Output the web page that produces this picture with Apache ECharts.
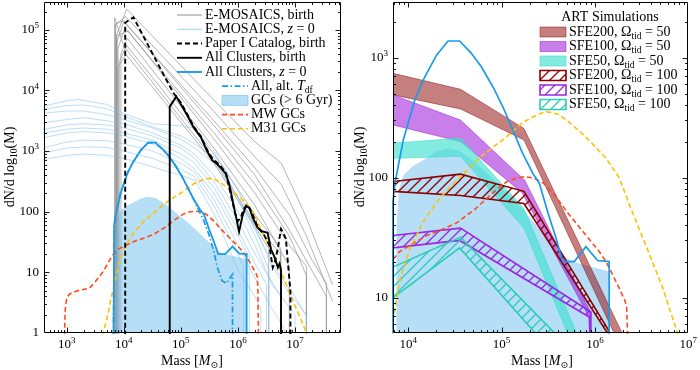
<!DOCTYPE html>
<html><head><meta charset="utf-8">
<script src="https://cdn.jsdelivr.net/npm/echarts@6/dist/echarts.min.js"></script>
<style>html,body{margin:0;padding:0;background:#fff}#c{width:700px;height:370px}</style>
</head><body><div id="c"></div>
<script>
// ---------------- DATA : [mass (Msun), dN/dlog10(M)] ----------------
const emosaicsBirth = [
  [[7413,0.9],[7413,7.94e4],[1.122e4,2.188e5],[3.802e5,6918],[1.995e6,1413],[5.754e6,631],[1.479e7,93],[4.571e7,6.2]],
  [[7079,0.9],[7079,1.202e5],[1.072e4,1.66e5],[3.802e5,4467],[1.995e6,794],[5.754e6,282],[1.585e7,39.8],[4.571e7,3.3]],
  [[7586,0.9],[7586,6.3e4],[1e4,1.35e5],[3.802e5,3162],[1.995e6,525],[7.943e6,89],[1.995e7,15.8],[3.548e7,6.6],[3.548e7,0.9]],
  [[7244,0.9],[7244,1.26e5],[1e4,1.41e5],[3.802e5,2630],[1.995e6,398],[7.943e6,50],[3.548e7,4],[3.548e7,0.9]],
  [[7943,0.9],[7943,5e4],[1.047e4,1.07e5],[3.802e5,1995],[1.995e6,282],[7.943e6,40],[1.585e7,8.9],[1.585e7,0.9]],
  [[7586,0.9],[7586,8e4],[1.202e4,9.5e4],[3.802e5,1585],[1.995e6,200],[7.943e6,28],[1.585e7,12.6],[1.585e7,0.9]],
  [[8913,0.9],[8913,4e4],[1.148e4,7.24e4],[3.802e5,1122],[1.995e6,126],[7.943e6,12.6],[7.943e6,0.9]],
  [[8318,0.9],[8318,3e4],[1.122e4,5.5e4],[3.802e5,891],[1.995e6,89],[5.623e6,25],[5.623e6,0.9]],
  [[6918,0.9],[6918,1.585e5],[1e4,5.37e4],[3.802e5,708],[1.995e6,63],[5.623e6,20],[5.623e6,0.9]],
  [[7943,0.9],[7943,2.5e4],[1.096e4,3.89e4],[3.802e5,631],[1.585e6,79],[3.467e6,25],[3.467e6,0.9]]
];
const emosaicsZ0 = [
  [[355,5370],[1000,6761],[1585,7079],[5012,5888],[1e4,4169],[3.162e4,2818],[1e5,2600],[1.738e5,2400],[3.802e5,1000],[1e6,224],[1.995e6,56],[3.981e6,12.6],[7.943e6,4.5],[1.585e7,2],[1.585e7,0.9]],
  [[355,4169],[1000,4571],[1995,4571],[5012,3981],[1e4,3311],[3.162e4,2399],[1e5,1585],[1.738e5,1122],[3.802e5,631],[1e6,158],[1.995e6,40],[3.467e6,11.2],[3.467e6,0.9]],
  [[355,2884],[1000,3311],[1995,3548],[5012,3162],[1e4,2818],[3.162e4,1995],[1e5,1259],[1.738e5,891],[3.802e5,398],[1e6,100],[1.995e6,28],[3.981e6,6.3],[1e7,2],[1e7,0.9]],
  [[355,2239],[1000,2692],[1995,2818],[5012,2692],[1e4,2399],[3.162e4,1778],[1e5,1122],[1.738e5,759],[3.802e5,316],[1e6,71],[1.995e6,20],[5.623e6,4],[5.623e6,0.9]],
  [[355,1950],[1000,2291],[1995,2399],[5012,2291],[1e4,1995],[3.162e4,1514],[1e5,891],[1.738e5,631],[3.802e5,251],[1e6,50],[1.995e6,14],[3.162e6,6.3],[3.162e6,0.9]],
  [[355,1622],[1000,1995],[1995,2089],[5012,1995],[1e4,1778],[3.162e4,1318],[1e5,759],[1.738e5,501],[3.802e5,200],[1e6,40],[1.585e6,17.8],[1.585e6,0.9]],
  [[355,1096],[1000,1413],[1995,1514],[5012,1479],[1e4,1318],[3.162e4,1000],[1e5,631],[1.738e5,447],[3.802e5,158],[1e6,28],[1.995e6,8],[3.981e6,2.5],[6.31e6,1.26],[7e6,0.9]],
  [[355,912],[1000,1122],[1995,1175],[5012,1148],[1e4,1000],[3.162e4,759],[1e5,501],[1.738e5,380],[3.802e5,126],[1e6,20],[1.259e6,12.6],[1.259e6,0.9]],
  [[355,708],[1000,851],[1995,891],[5012,851],[1e4,759],[3.162e4,550],[1e5,398],[1.738e5,331],[3.802e5,93],[1e6,11],[1.995e6,4],[2.512e6,2.5],[2.512e6,0.9]],
  [[355,4786],[1000,5623],[1995,5754],[5012,5012],[1e4,3802],[3.162e4,2512],[1e5,1778],[1.738e5,1318],[3.802e5,794],[1e6,178],[1.995e6,50],[5.012e6,10],[1e7,4],[1.585e7,1.9],[1.585e7,0.9]]
];
const paperIBirth = [[1.059e4,0.9],[1.059e4,1.3e5],[1.148e4,1.38e5],[1.479e4,1.6e5],[3.162e4,4.1e4],[5.012e4,1.8e4],[7.516e4,8900],[1e5,6300],[1.288e5,4100],[1.698e5,2500],[2.239e5,1750],[2.884e5,1050],[3.548e5,760],[4.169e5,660],[5.012e5,560],[6.166e5,430],[7.516e5,190],[8.913e5,95],[1e6,70],[1.122e6,80],[1.259e6,112],[1.479e6,130],[1.778e6,95],[2.239e6,55],[2.884e6,41],[3.548e6,28],[4.074e6,12],[4.467e6,15],[5.012e6,25],[5.689e6,52],[6.918e6,36],[7.586e6,13],[8.318e6,5],[8.318e6,0.9]];
const allBirth = [[6.383e4,0.9],[6.383e4,5400],[8.318e4,7900],[1e5,5900],[1.288e5,3900],[1.698e5,2400],[2.239e5,1700],[2.884e5,1000],[3.548e5,700],[4.169e5,630],[5.012e5,530],[6.166e5,420],[7.079e5,280],[8.511e5,120],[1.047e6,47],[1.202e6,85],[1.38e6,125],[1.585e6,115],[1.82e6,80],[2.188e6,55],[2.63e6,48],[3.311e6,45],[3.802e6,24],[4.365e6,18],[5.012e6,12],[5.37e6,14],[5.689e6,11],[5.689e6,0.9]];
const allZ0 = [[6.607e3,0.9],[6.808e3,60],[7.21e3,90],[8.85e3,206],[1.178e4,446],[1.445e4,650],[2.01e4,1050],[2.673e4,1378],[3.565e4,1378],[4.75e4,1087],[6.07e4,841],[8.07e4,573],[1.033e5,390],[1.318e5,250],[1.687e5,159],[2.158e5,109],[2.54e5,90],[3.162e5,50],[3.8e5,32],[4.508e5,20],[6.01e5,20],[8.02e5,26.6],[1.067e6,20.4],[1.422e6,20],[1.422e6,0.9]];
const allAltTdf = [[6.607e3,0.9],[6.808e3,60],[7.21e3,90],[8.85e3,206],[1.178e4,446],[1.445e4,650],[2.01e4,1050],[2.673e4,1378],[3.565e4,1378],[4.75e4,1087],[6.07e4,841],[8.07e4,573],[1.033e5,390],[1.318e5,250],[1.687e5,159],[1.995e5,112],[2.512e5,72],[3.162e5,40],[3.8e5,22],[4.365e5,12],[5.248e5,7.3],[6.31e5,6.6],[7.244e5,8],[8.035e5,9.3],[8.035e5,0.9]];
const oldGCs = [[7413,1],[7499,40],[7943,80],[8913,105],[1.122e4,125],[1.445e4,140],[1.995e4,165],[2.692e4,176],[3.548e4,168],[4.898e4,140],[7.413e4,105],[1e5,82],[1.288e5,68],[1.778e5,52],[2.512e5,38],[3.311e5,30],[4.169e5,23],[5.754e5,20],[9.333e5,18],[1.413e6,16.5],[1.445e6,1]];
const mwGCs = [[912,0.9],[944,2.5],[1000,3.8],[1122,4.4],[1585,5.0],[2512,5.5],[3162,7],[4266,10],[6310,19],[7943,24],[1.096e4,28],[1.585e4,33],[2.291e4,37],[3.311e4,42],[3.981e4,47],[5.248e4,55],[6.761e4,66],[8.913e4,80],[1.122e5,92],[1.413e5,99],[1.778e5,102],[2.239e5,99],[2.818e5,90],[3.802e5,70],[5.012e5,52],[6.761e5,39],[8.913e5,30],[1.122e6,24],[1.318e6,20],[1.585e6,15],[1.82e6,12],[2.089e6,9.5],[2.188e6,8.5],[2.239e6,5],[2.291e6,0.9]];
const m31GCs = [[4236,0.9],[5188,1.9],[5888,3.5],[6761,6],[8128,14],[1.047e4,26],[1.445e4,43],[2.188e4,68],[3.311e4,95],[4.571e4,122],[6.31e4,155],[1.122e5,218],[1.698e5,290],[2.512e5,340],[3.02e5,355],[3.981e5,340],[5.012e5,300],[7.943e5,220],[1.318e6,145],[1.82e6,100],[2.512e6,52],[3.467e6,28],[5.248e6,12.5],[7.244e6,5.8],[1e7,2.8],[1.259e7,1.7],[1.585e7,1],[1.778e7,0.8]];
// ART simulation bands (upper / lower edges)
const sfe200w50Upper = [[6870,741],[3.631e4,546],[1.738e5,257],[2.265e6,4]];
const sfe200w50Lower = [[6870,490],[3.631e4,374],[1.738e5,206],[1.845e6,4]];
const sfe100w50Upper = [[6870,490],[3.631e4,302],[1.778e5,95],[9.12e5,7.4]];
const sfe100w50Lower = [[6870,275],[3.631e4,200],[1.66e5,75],[8.91e5,6.6]];
const sfe50w50Upper = [[6870,194],[3.631e4,214],[1.738e5,55],[8.2e5,3.2]];
const sfe50w50Lower = [[6870,145],[3.631e4,151],[1.738e5,38],[6.46e5,3.2]];
const sfe200w100Upper = [[6870,93],[3.631e4,107],[1.738e5,77],[1.758e6,4]];
const sfe200w100Lower = [[6870,77],[3.631e4,71],[1.738e5,61],[1.66e6,4]];
const sfe100w100Upper = [[6870,33],[3.631e4,38],[9.057e5,7.6]];
const sfe100w100Lower = [[6870,26],[3.548e4,30],[8.71e5,6.9],[9.057e5,3]];
const sfe50w100Upper = [[6870,18],[3.631e4,32],[5.012e5,4]];
const sfe50w100Lower = [[6870,10],[3.548e4,26],[3.02e5,4]];

// ---------------- RENDER ----------------
const FONT = '"Liberation Serif", "DejaVu Serif", serif';
const chart = echarts.init(document.getElementById('c'), null, {renderer:'canvas'});
const L = {xmin:400, xmax:6.4e7, ymin:1, ymax:2.87e5};
const R = {xmin:6870, xmax:1e7, ymin:5.08, ymax:2912};

function hatch(color){
  const s = 10, c = document.createElement('canvas'); c.width = s; c.height = s;
  const g = c.getContext('2d'); g.strokeStyle = color; g.lineWidth = 1.3;
  g.beginPath();
  g.moveTo(0,s); g.lineTo(s,0);
  g.moveTo(-s/2,s/2); g.lineTo(s/2,-s/2);
  g.moveTo(s/2,s*1.5); g.lineTo(s*1.5,s/2);
  g.stroke();
  return {image:c, repeat:'repeat'};
}

function lineS(ai, data, color, width, type, z){
  return {type:'line', xAxisIndex:ai, yAxisIndex:ai, data, showSymbol:false, symbol:'none',
    clip:true, silent:true, z, animation:false,
    lineStyle:{color, width, type: type || 'solid', cap:'butt', join:'miter'}};
}
function polyS(ai, upper, lower, style, z){
  return {type:'custom', xAxisIndex:ai, yAxisIndex:ai, clip:true, silent:true, z, animation:false,
    data:[[1e4,10]],
    renderItem(params, api){
      const pts = upper.map(p => api.coord(p)).concat(lower.slice().reverse().map(p => api.coord(p)));
      return {type:'polygon', shape:{points:pts}, style};
    }};
}
function frameS(ai, b){
  return {type:'custom', xAxisIndex:ai, yAxisIndex:ai, silent:true, z:50, animation:false,
    data:[[1e4,10]],
    renderItem(params, api){
      const cs = params.coordSys;
      const x0 = Math.round(cs.x)+0.5, y0 = Math.round(cs.y)+0.5;
      const x1 = Math.round(cs.x+cs.width)-0.5, y1 = Math.round(cs.y+cs.height)-0.5;
      const ch = [{type:'rect', shape:{x:x0,y:y0,width:x1-x0,height:y1-y0}, style:{fill:null, stroke:'#000', lineWidth:1}}];
      const st = {stroke:'#000', lineWidth:0.9};
      for (let d = Math.floor(Math.log10(b.xmin)); d <= Math.ceil(Math.log10(b.xmax)); d++){
        for (let k = 1; k <= 9; k++){
          const v = k*Math.pow(10,d);
          if (v <= b.xmin*1.0001 || v >= b.xmax*0.9999) continue;
          const px = Math.round(api.coord([v, b.ymin])[0])+0.5;
          const len = k===1 ? 5 : 2.5;
          ch.push({type:'line', shape:{x1:px,y1:y1,x2:px,y2:y1-len}, style:st});
          ch.push({type:'line', shape:{x1:px,y1:y0,x2:px,y2:y0+len}, style:st});
        }
      }
      for (let d = Math.floor(Math.log10(b.ymin)); d <= Math.ceil(Math.log10(b.ymax)); d++){
        for (let k = 1; k <= 9; k++){
          const v = k*Math.pow(10,d);
          if (v <= b.ymin*1.0001 || v >= b.ymax*0.9999) continue;
          const py = Math.round(api.coord([b.xmin*1.5, v])[1])+0.5;
          const len = k===1 ? 5 : 2.5;
          ch.push({type:'line', shape:{x1:x0,y1:py,x2:x0+len,y2:py}, style:st});
          ch.push({type:'line', shape:{x1:x1,y1:py,x2:x1-len,y2:py}, style:st});
        }
      }
      return {type:'group', children:ch};
    }};
}

const labRich = {
  b:{fontFamily:FONT, fontSize:13, lineHeight:17, color:'#000'},
  s:{fontFamily:FONT, fontSize:9, lineHeight:9, verticalAlign:'top', color:'#000'}
};
function isPow(v){ const l = Math.log10(v), r = Math.round(l); return Math.abs(l-r) < 1e-6 ? r : null; }
const xFmt = v => { const r = isPow(v); return r === null ? '' : '{b|10}{s|'+r+'}'; };
const yFmt = v => { const r = isPow(v); if (r === null) return ''; if (r <= 2) return '{b|'+Math.pow(10,r)+'}'; return '{b|10}{s|'+r+'}'; };
function xAx(gi, b){ return {type:'log', logBase:10, gridIndex:gi, min:b.xmin, max:b.xmax,
  axisLine:{show:false}, axisTick:{show:false}, splitLine:{show:false}, minorTick:{show:false},
  axisLabel:{formatter:xFmt, rich:labRich, margin:3, showMinLabel:false, showMaxLabel: gi===1}}; }
function yAx(gi, b){ return {type:'log', logBase:10, gridIndex:gi, min:b.ymin, max:b.ymax,
  axisLine:{show:false}, axisTick:{show:false}, splitLine:{show:false}, minorTick:{show:false},
  axisLabel:{formatter:yFmt, rich:labRich, margin:5, showMinLabel: gi===0, showMaxLabel:false}}; }

const gray = 'rgba(130,130,130,0.6)', lblue = 'rgba(120,190,238,0.5)';
const blue = '#1a9be8', red = '#ff4a1c', gold = '#ffc000';
const gcFill = {fill:'rgba(110,190,240,0.5)', stroke:null};

const series = [];
emosaicsBirth.forEach(d => series.push(lineS(0, d, gray, 1, 'solid', 2)));
emosaicsZ0.forEach(d => series.push(lineS(0, d, lblue, 1, 'solid', 2)));
series.push(polyS(0, oldGCs, [[1.445e6,0.5],[7413,0.5]].reverse(), gcFill, 3));
series.push(lineS(0, mwGCs, red, 1.6, [5,3], 4));
series.push(lineS(0, m31GCs, gold, 1.6, [5,3], 4));
series.push(lineS(0, allAltTdf, blue, 1.7, [6,2.5,1.5,2.5], 5));
series.push(lineS(0, allZ0, blue, 1.8, 'solid', 5));
series.push(lineS(0, paperIBirth, '#000', 1.9, [5,3], 6));
series.push(lineS(0, allBirth, '#000', 1.9, 'solid', 6));
series.push(frameS(0, L));

// right panel
series.push(polyS(1, oldGCs, [[1.445e6,0.5],[7413,0.5]].reverse(), gcFill, 1));
series.push(polyS(1, sfe200w50Upper, sfe200w50Lower, {fill:'rgba(139,0,0,0.5)', stroke:'rgba(139,0,0,0.45)', lineWidth:1}, 2));
series.push(polyS(1, sfe100w50Upper, sfe100w50Lower, {fill:'rgba(148,0,211,0.5)', stroke:'rgba(148,0,211,0.45)', lineWidth:1}, 2));
series.push(polyS(1, sfe50w50Upper, sfe50w50Lower, {fill:'rgba(64,224,208,0.65)', stroke:'rgba(64,224,208,0.6)', lineWidth:1}, 2));
series.push(polyS(1, sfe200w100Upper, sfe200w100Lower, {fill:hatch('#8b0000'), stroke:'#8b0000', lineWidth:1.6}, 3));
series.push(polyS(1, sfe100w100Upper, sfe100w100Lower, {fill:hatch('#9b27e0'), stroke:'#9b27e0', lineWidth:1.6}, 3));
series.push(polyS(1, sfe50w100Upper, sfe50w100Lower, {fill:hatch('#2cccb8'), stroke:'#2cccb8', lineWidth:1.6}, 3));
series.push(lineS(1, mwGCs, red, 1.6, [5,3], 4));
series.push(lineS(1, m31GCs, gold, 1.6, [5,3], 4));
series.push(lineS(1, allZ0, blue, 1.7, 'solid', 5));
series.push(frameS(1, R));

// ---------------- legends / titles (graphic) ----------------
const txtRich = {
  n:{fontFamily:FONT, fontSize:14, lineHeight:18, fill:'#000'},
  i:{fontFamily:FONT, fontSize:14, lineHeight:18, fontStyle:'italic', fill:'#000'},
  sub:{fontFamily:FONT, fontSize:9.5, lineHeight:10, verticalAlign:'bottom', fill:'#000'}
};
function T(x, y, text, extra){
  return Object.assign({type:'text', x, y, z:100, silent:true,
    style:{text, rich:txtRich, fill:'#000', font:'14px '+FONT, verticalAlign:'middle', align:'left'}}, extra||{});
}
function HL(x1, x2, y, color, w, dash){
  return {type:'line', z:100, silent:true, shape:{x1, y1:y, x2, y2:y}, style:{stroke:color, lineWidth:w, lineDash:dash||null}};
}
const g = [];
const rowsL = [15, 29.3, 43.5, 57.8, 72, 86.2, 100.4, 114.6, 128.8];
const lx1 = 177, lx2 = 202, tx1 = 205, lx3 = 222, lx4 = 248, tx2 = 251;
g.push(HL(lx1,lx2,rowsL[0],'rgba(130,130,130,0.75)',1.2));
g.push(T(tx1,rowsL[0],'{n|E-MOSAICS, birth}'));
g.push(HL(lx1,lx2,rowsL[1],'rgba(120,190,238,0.6)',1.2));
g.push(T(tx1,rowsL[1],'{n|E-MOSAICS, }{i|z}{n| = 0}'));
g.push(HL(lx1,lx2,rowsL[2],'#000',1.9,[5,3]));
g.push(T(tx1,rowsL[2],'{n|Paper I Catalog, birth}'));
g.push(HL(lx1,lx2,rowsL[3],'#000',1.9));
g.push(T(tx1,rowsL[3],'{n|All Clusters, birth}'));
g.push(HL(lx1,lx2,rowsL[4],blue,1.9));
g.push(T(tx1,rowsL[4],'{n|All Clusters, }{i|z}{n| = 0}'));
g.push(HL(lx3,lx4,rowsL[5],blue,1.8,[6,2.5,1.5,2.5]));
g.push(T(tx2,rowsL[5],'{n|All, alt. }{i|T}{sub|df}'));
g.push({type:'rect', z:100, silent:true, shape:{x:lx3, y:rowsL[6]-5, width:lx4-lx3, height:10}, style:{fill:'rgba(110,190,240,0.5)', stroke:'rgba(110,190,240,0.6)', lineWidth:1}});
g.push(T(tx2,rowsL[6],'{n|GCs (> 6 Gyr)}'));
g.push(HL(lx3,lx4,rowsL[7],red,1.6,[5,3]));
g.push(T(tx2,rowsL[7],'{n|MW GCs}'));
g.push(HL(lx3,lx4,rowsL[8],gold,1.6,[5,3]));
g.push(T(tx2,rowsL[8],'{n|M31 GCs}'));

// right legend
g.push(T(610,17.5,'{n|ART Simulations}', {style:{text:'{n|ART Simulations}', rich:txtRich, verticalAlign:'middle', align:'center'}}));
const rowsR = [32, 46.5, 61, 75.5, 90, 104.5];
const rx = 540, rw = 26, rtx = 569;
const patches = [
  {fill:'rgba(139,0,0,0.5)', stroke:'rgba(139,0,0,0.45)', lw:1, lab:'{n|SFE200, Ω}{sub|tid}{n| = 50}'},
  {fill:'rgba(148,0,211,0.5)', stroke:'rgba(148,0,211,0.45)', lw:1, lab:'{n|SFE100, Ω}{sub|tid}{n| = 50}'},
  {fill:'rgba(64,224,208,0.65)', stroke:'rgba(64,224,208,0.6)', lw:1, lab:'{n|SFE50, Ω}{sub|tid}{n| = 50}'},
  {fill:hatch('#8b0000'), stroke:'#8b0000', lw:1.6, lab:'{n|SFE200, Ω}{sub|tid}{n| = 100}'},
  {fill:hatch('#9b27e0'), stroke:'#9b27e0', lw:1.6, lab:'{n|SFE100, Ω}{sub|tid}{n| = 100}'},
  {fill:hatch('#2cccb8'), stroke:'#2cccb8', lw:1.6, lab:'{n|SFE50, Ω}{sub|tid}{n| = 100}'}
];
patches.forEach((p, i) => {
  g.push({type:'rect', z:100, silent:true, shape:{x:rx, y:rowsR[i]-5, width:rw, height:10}, style:{fill:p.fill, stroke:p.stroke, lineWidth:p.lw}});
  g.push(T(rtx, rowsR[i], p.lab));
});

// axis titles
const xt = '{n|Mass [}{i|M}{sub|⊙}{n|]}';
g.push(T(192, 361, xt, {style:{text:xt, rich:txtRich, verticalAlign:'middle', align:'center'}}));
g.push(T(542, 361, xt, {style:{text:xt, rich:txtRich, verticalAlign:'middle', align:'center'}}));
const yt = '{n|dN/d log}{sub|10}{n|(M)}';
g.push(T(10, 167, yt, {rotation:Math.PI/2, style:{text:yt, rich:txtRich, verticalAlign:'middle', align:'center'}}));
g.push(T(360, 167, yt, {rotation:Math.PI/2, style:{text:yt, rich:txtRich, verticalAlign:'middle', align:'center'}}));

chart.setOption({
  animation:false,
  backgroundColor:'#fff',
  grid:[{left:44, top:2, width:297, height:331}, {left:393, top:2, width:297, height:331}],
  xAxis:[xAx(0,L), xAx(1,R)],
  yAxis:[yAx(0,L), yAx(1,R)],
  series,
  graphic:g
});
</script></body></html>
